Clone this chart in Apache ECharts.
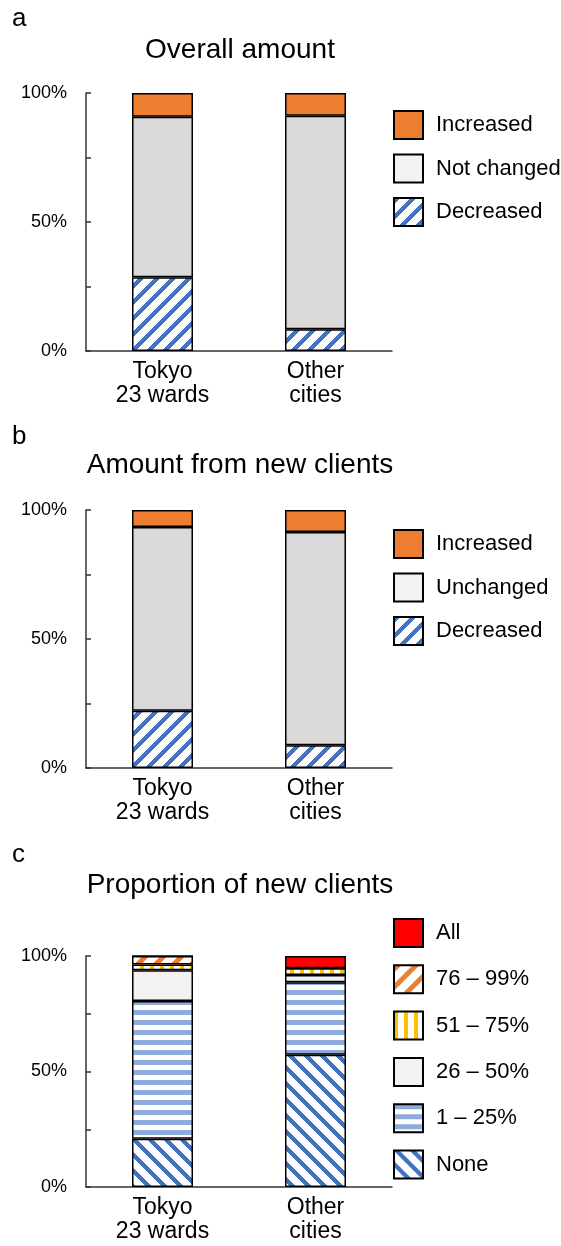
<!DOCTYPE html>
<html>
<head>
<meta charset="utf-8">
<script src="https://cdn.jsdelivr.net/npm/echarts@6/dist/echarts.min.js"></script>
<style>
html,body{margin:0;padding:0;background:#fff;}
#chart{width:561px;height:1246px;}
</style>
</head>
<body>
<div id="chart"></div>
<script>
// ---- data ----
const categories = ['Tokyo\n23 wards', 'Other\ncities'];
const yTicks = [0, 50, 100];

const aTitle = 'Overall amount';
const aNames = ['Decreased', 'Not changed', 'Increased'];
const aDecreased = [28.6, 8.4];
const aNotChanged = [62.2, 82.8];
const aIncreased = [9.2, 8.8];

const bTitle = 'Amount from new clients';
const bNames = ['Decreased', 'Unchanged', 'Increased'];
const bDecreased = [22.2, 8.8];
const bUnchanged = [71.2, 82.7];
const bIncreased = [6.6, 8.5];

const cTitle = 'Proportion of new clients';
const cNames = ['None', '1 – 25%', '26 – 50%', '51 – 75%', '76 – 99%', 'All'];
const cNone = [20.9, 57.2];
const c1to25 = [59.6, 31.4];
const c26to50 = [13.3, 3.2];
const c51to75 = [2.5, 2.9];
const c76to99 = [3.7, 0];
const cAll = [0, 5.3];

// ---- patterns (pixel exact tiles) ----
function hex(c) {
  return [parseInt(c.slice(1, 3), 16), parseInt(c.slice(3, 5), 16), parseInt(c.slice(5, 7), 16)];
}
function tile(P, color, test) {
  const c = document.createElement('canvas');
  c.width = P; c.height = P;
  const g = c.getContext('2d');
  const img = g.createImageData(P, P);
  const rgb = hex(color);
  for (let y = 0; y < P; y++) {
    for (let x = 0; x < P; x++) {
      const i = (y * P + x) * 4;
      const on = test(x, y, P);
      img.data[i] = on ? rgb[0] : 255;
      img.data[i + 1] = on ? rgb[1] : 255;
      img.data[i + 2] = on ? rgb[2] : 255;
      img.data[i + 3] = 255;
    }
  }
  g.putImageData(img, 0, 0);
  return { image: c, repeat: 'repeat' };
}
const diagUp = (color, P, w) => tile(P, color, (x, y, P) => ((x + y) % P) < w);
const diagDown = (color, P, w) => tile(P, color, (x, y, P) => ((x - y + P * 4) % P) < w);
const hstripe = (color, P, w) => tile(P, color, (x, y) => y < w);
const vstripe = (color, P, w) => tile(P, color, (x) => x < w);

const BLUE = '#4472C4', ORANGE = '#ED7D31', GRAY = '#D9D9D9', LIGHT = '#F2F2F2';
const pDec = diagUp(BLUE, 16, 6);
const pNone = diagDown(BLUE, 16, 6);
const pH = hstripe('#8FAADC', 10, 5);
const pV = vstripe('#FFC000', 10, 4);
const pO = diagUp(ORANGE, 18, 7);

const FONT = "'Liberation Sans', Arial, sans-serif";
const grids = [
  { left: 86, top: 93, width: 306, height: 258 },
  { left: 86, top: 510, width: 306, height: 258 },
  { left: 86, top: 956, width: 306, height: 231 }
];

function xAx(i) {
  return {
    type: 'category', gridIndex: i, data: categories,
    axisTick: { show: false },
    axisLine: { lineStyle: { color: '#333', width: 1.5 } },
    axisLabel: { color: '#000', fontSize: 23, lineHeight: 24, margin: 9, fontFamily: FONT, interval: 0 }
  };
}
function yAx(i) {
  return {
    type: 'value', gridIndex: i, min: 0, max: 100, interval: 25,
    axisLine: { show: true, lineStyle: { color: '#333', width: 1.5 } },
    axisTick: { show: true, inside: true, length: 5, lineStyle: { color: '#333', width: 1.5 } },
    splitLine: { show: false },
    axisLabel: { color: '#000', fontSize: 18, margin: 19, fontFamily: FONT,
      formatter: v => (yTicks.indexOf(v) >= 0 ? v + '%' : '') }
  };
}
function bar(name, data, color, i, stack) {
  return {
    type: 'bar', name, data, stack, xAxisIndex: i, yAxisIndex: i, barWidth: 61,
    itemStyle: { color, borderColor: '#000', borderWidth: 1.5 },
    emphasis: { disabled: true }, animation: false
  };
}
function legend(data, top, gap) {
  return {
    orient: 'vertical', left: 393, top, padding: 0, itemGap: gap,
    itemWidth: 29, itemHeight: 28, icon: 'rect', selectedMode: false,
    textStyle: { color: '#000', fontSize: 22, fontFamily: FONT, padding: [0, 0, 0, 8] },
    data
  };
}

const chart = echarts.init(document.getElementById('chart'), null, { renderer: 'canvas' });
chart.setOption({
  animation: false,
  grid: grids,
  xAxis: [xAx(0), xAx(1), xAx(2)],
  yAxis: [yAx(0), yAx(1), yAx(2)],
  legend: [
    legend([aNames[2], { name: aNames[1], itemStyle: { color: LIGHT } }, aNames[0]], 110, 13.5),
    legend([bNames[2], { name: bNames[1], itemStyle: { color: LIGHT } }, bNames[0]], 529, 13.5),
    legend([cNames[5], cNames[4], cNames[3], cNames[2], cNames[1], cNames[0]], 918, 16.3)
  ],
  graphic: [
    { type: 'text', left: 12, top: 6, style: { text: 'a', font: '26px ' + FONT, fill: '#000' } },
    { type: 'text', left: 12, top: 424, style: { text: 'b', font: '26px ' + FONT, fill: '#000' } },
    { type: 'text', left: 12, top: 842, style: { text: 'c', font: '26px ' + FONT, fill: '#000' } },
    { type: 'text', x: 240, y: 50, style: { text: aTitle, font: '28px ' + FONT, fill: '#000', align: 'center', verticalAlign: 'middle' } },
    { type: 'text', x: 240, y: 465, style: { text: bTitle, font: '28px ' + FONT, fill: '#000', align: 'center', verticalAlign: 'middle' } },
    { type: 'text', x: 240, y: 885, style: { text: cTitle, font: '28px ' + FONT, fill: '#000', align: 'center', verticalAlign: 'middle' } }
  ],
  series: [
    bar(aNames[0], aDecreased, pDec, 0, 'a'),
    bar(aNames[1], aNotChanged, GRAY, 0, 'a'),
    bar(aNames[2], aIncreased, ORANGE, 0, 'a'),
    bar(bNames[0], bDecreased, pDec, 1, 'b'),
    bar(bNames[1], bUnchanged, GRAY, 1, 'b'),
    bar(bNames[2], bIncreased, ORANGE, 1, 'b'),
    bar(cNames[0], cNone, pNone, 2, 'c'),
    bar(cNames[1], c1to25, pH, 2, 'c'),
    bar(cNames[2], c26to50, LIGHT, 2, 'c'),
    bar(cNames[3], c51to75, pV, 2, 'c'),
    bar(cNames[4], c76to99, pO, 2, 'c'),
    bar(cNames[5], cAll, '#FF0000', 2, 'c')
  ]
});
</script>
</body>
</html>
